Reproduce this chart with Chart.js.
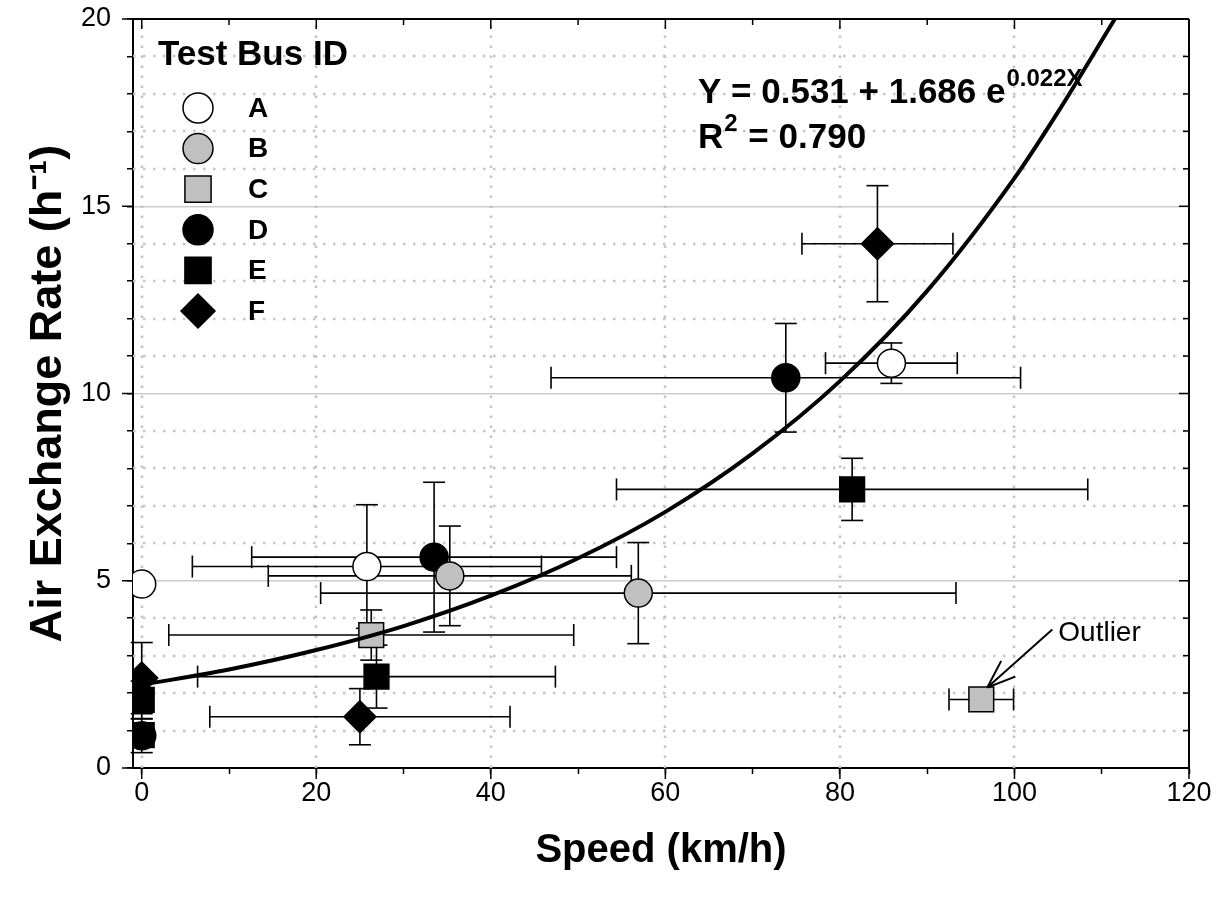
<!DOCTYPE html>
<html><head><meta charset="utf-8">
<script src="https://cdn.jsdelivr.net/npm/chart.js@4.4.1/dist/chart.umd.min.js"></script>
<style>html,body{margin:0;padding:0;background:#fff}canvas{display:block}</style>
</head><body>
<div style="width:1227px;height:904px"><canvas id="c" width="1227" height="904"></canvas></div>
<script>
// ---- data ----
const seriesNames = ['A','B','C','D','E','F'];

const speedA = [0, 25.8, 85.9];        const rateA = [4.91, 5.38, 10.81];
const speedErrA = [0, 20.0, 7.55];     const rateErrA = [0, 1.65, 0.54];

const speedB = [35.3, 56.9];           const rateB = [5.13, 4.67];
const speedErrB = [20.8, 36.4];        const rateErrB = [1.33, 1.35];

const speedC = [26.3, 96.2];           const rateC = [3.55, 1.83];
const speedErrC = [23.2, 3.7];         const rateErrC = [0.67, 0];

const speedD = [0, 33.5, 73.8];        const rateD = [0.86, 5.63, 10.42];
const speedErrD = [0, 20.9, 26.9];     const rateErrD = [0.45, 2.0, 1.45];

const speedE = [0, 0, 26.9, 81.4];     const rateE = [1.82, 0.88, 2.44, 7.44];
const speedErrE = [0, 0, 20.5, 27.0];  const rateErrE = [0.5, 0, 0.84, 0.83];

const speedF = [0, 25.0, 84.3];        const rateF = [2.40, 1.37, 14.0];
const speedErrF = [0, 17.2, 8.65];     const rateErrF = [0.95, 0.75, 1.55];

// fitted curve as drawn (Y = 0.531 + 1.686 e^0.022X)
const fitSpeed = [0, 10, 20, 30, 40, 50, 60, 70, 80, 90, 100, 105, 111.5];
const fitRate  = [2.22, 2.63, 3.15, 3.79, 4.60, 5.60, 6.84, 8.40, 10.33, 12.74, 15.75, 17.52, 20.0];
const fitText = ['0.531', '1.686', '0.022X', '0.790'];
const outlierLabel = 'Outlier';

const xTickValues = [0, 10, 20, 30, 40, 50, 60, 70, 80, 90, 100, 110, 120];
const yTickValues = [0,1,2,3,4,5,6,7,8,9,10,11,12,13,14,15,16,17,18,19,20];

// ---- styling ----
const F = '"Liberation Sans", Arial, Helvetica, sans-serif';
const pts = (xs, ys) => xs.map((x, i) => ({x: x, y: ys[i]}));
function series(name, xs, ys, xe, ye, style, fill, r) {
  return {label: name, type: 'scatter', data: pts(xs, ys), errX: xe, errY: ye,
    pointStyle: style, backgroundColor: fill, borderColor: '#000', borderWidth: 1.5,
    pointRadius: r, pointHoverRadius: r, order: 1};
}
const datasets = [
  series('A', speedA, rateA, speedErrA, rateErrA, 'circle', '#ffffff', 14),
  series('B', speedB, rateB, speedErrB, rateErrB, 'circle', '#c0c0c0', 14),
  series('C', speedC, rateC, speedErrC, rateErrC, 'rect', '#c0c0c0', 17.5),
  series('D', speedD, rateD, speedErrD, rateErrD, 'circle', '#000000', 14),
  series('E', speedE, rateE, speedErrE, rateErrE, 'rect', '#000000', 17.5),
  series('F', speedF, rateF, speedErrF, rateErrF, 'rectRot', '#000000', 16),
  {label: 'fit', type: 'line', data: pts(fitSpeed, fitRate), borderColor: '#000', borderWidth: 4,
   pointRadius: 0, fill: false, cubicInterpolationMode: 'monotone', order: 0}
];

const gridPlugin = {
  id: 'dottedGrid',
  beforeDatasetsDraw(chart) {
    const {ctx, chartArea: a, scales: {x, y}} = chart;
    ctx.save();
    ctx.strokeStyle = '#c4c4c4'; ctx.lineWidth = 2.5; ctx.setLineDash([2.5, 7.5]);
    x.ticks.forEach(t => {
      if (t.value % 20 !== 0 || t.value >= 120) return;
      const px = Math.round(x.getPixelForValue(t.value));
      ctx.beginPath(); ctx.moveTo(px, a.bottom); ctx.lineTo(px, a.top); ctx.stroke();
    });
    y.ticks.forEach(t => {
      if (t.value % 5 === 0) return;
      const py = Math.round(y.getPixelForValue(t.value));
      ctx.beginPath(); ctx.moveTo(a.left, py); ctx.lineTo(a.right, py); ctx.stroke();
    });
    ctx.restore();
  }
};

const errorBarPlugin = {
  id: 'errorBars',
  beforeDatasetsDraw(chart) {
    const {ctx, scales: {x, y}} = chart;
    const cap = 11;
    ctx.save(); ctx.strokeStyle = '#000'; ctx.lineWidth = 1.6;
    const seg = (x1, y1, x2, y2) => { ctx.beginPath(); ctx.moveTo(x1, y1); ctx.lineTo(x2, y2); ctx.stroke(); };
    chart.data.datasets.forEach(ds => {
      if (!ds.errX) return;
      ds.data.forEach((p, i) => {
        const px = x.getPixelForValue(p.x), py = y.getPixelForValue(p.y);
        const ex = ds.errX[i], ey = ds.errY[i];
        if (ex > 0) {
          const l = x.getPixelForValue(p.x - ex), r = x.getPixelForValue(p.x + ex);
          seg(l, py, r, py); seg(l, py - cap, l, py + cap); seg(r, py - cap, r, py + cap);
        }
        if (ey > 0) {
          const t = y.getPixelForValue(p.y + ey), b = y.getPixelForValue(p.y - ey);
          seg(px, t, px, b); seg(px - cap, t, px + cap, t); seg(px - cap, b, px + cap, b);
        }
      });
    });
    ctx.restore();
  }
};

const decorPlugin = {
  id: 'decor',
  afterDatasetsDraw(chart) {
    const {ctx, scales: {x, y}} = chart;
    ctx.save();
    // legend
    ctx.fillStyle = '#000'; ctx.textBaseline = 'alphabetic'; ctx.textAlign = 'left';
    ctx.font = 'bold 35px ' + F;
    ctx.fillText('Test Bus ID', 158, 65);
    ctx.font = 'bold 28px ' + F; ctx.textBaseline = 'middle';
    seriesNames.forEach((n, i) => {
      const ds = chart.data.datasets[i];
      const yy = 108 + i * 40.6;
      ctx.fillStyle = ds.backgroundColor; ctx.strokeStyle = '#000'; ctx.lineWidth = 1.5;
      Chart.helpers.drawPoint(ctx, {pointStyle: ds.pointStyle, radius: ds.pointRadius + 1, borderWidth: 1.5, rotation: 0}, 198, yy);
      ctx.fillStyle = '#000';
      ctx.fillText(n, 248, yy + 1);
    });
    // equation
    ctx.textBaseline = 'alphabetic';
    ctx.font = 'bold 35px ' + F;
    const l1 = 'Y = ' + fitText[0] + ' + ' + fitText[1] + ' e';
    ctx.fillText(l1, 698, 103);
    const w1 = ctx.measureText(l1).width;
    ctx.font = 'bold 24px ' + F;
    ctx.fillText(fitText[2], 698 + w1 + 1, 86);
    ctx.font = 'bold 35px ' + F;
    ctx.fillText('R', 698, 148);
    const wR = ctx.measureText('R').width;
    ctx.font = 'bold 24px ' + F;
    ctx.fillText('2', 698 + wR + 1, 131);
    const w2 = ctx.measureText('2').width;
    ctx.font = 'bold 35px ' + F;
    ctx.fillText(' = ' + fitText[3], 698 + wR + w2 + 2, 148);
    // outlier annotation
    const ox = x.getPixelForValue(speedC[1]), oy = y.getPixelForValue(rateC[1]);
    const tipX = ox + 6, tipY = oy - 12;
    const tailX = ox + 71, tailY = oy - 70;
    ctx.strokeStyle = '#000'; ctx.lineWidth = 2;
    ctx.beginPath(); ctx.moveTo(tailX, tailY); ctx.lineTo(tipX, tipY); ctx.stroke();
    const ang = Math.atan2(tailY - tipY, tailX - tipX);
    [-0.36, 0.36].forEach(d => {
      ctx.beginPath(); ctx.moveTo(tipX, tipY);
      ctx.lineTo(tipX + 30 * Math.cos(ang + d), tipY + 30 * Math.sin(ang + d)); ctx.stroke();
    });
    ctx.font = '28px ' + F; ctx.textBaseline = 'middle';
    ctx.fillText(outlierLabel, tailX + 6, tailY + 4);
    ctx.restore();
  },
  afterDraw(chart) {
    const {ctx, chartArea: a, scales: {x, y}} = chart;
    ctx.save(); ctx.strokeStyle = '#000'; ctx.lineWidth = 2;
    const seg = (x1, y1, x2, y2) => { ctx.beginPath(); ctx.moveTo(x1, y1); ctx.lineTo(x2, y2); ctx.stroke(); };
    seg(a.left, a.top, a.right, a.top);
    seg(a.right, a.top, a.right, a.bottom);
    ctx.lineWidth = 1.5;
    x.ticks.forEach(t => {
      const px = x.getPixelForValue(t.value);
      const major = t.value % 20 === 0;
      seg(px, a.top, px, a.top + (major ? 10 : 6));
      if (major) seg(px, a.bottom, px, a.bottom + 11);
    });
    y.ticks.forEach(t => {
      const py = y.getPixelForValue(t.value);
      const major = t.value % 5 === 0;
      seg(a.right, py, a.right - (major ? 10 : 6), py);
      if (major) seg(a.left, py, a.left - 11, py);
    });
    ctx.restore();
  }
};

new Chart(document.getElementById('c'), {
  type: 'scatter',
  data: {datasets: datasets},
  options: {
    responsive: false, animation: false, events: [],
    layout: {padding: {top: 19, right: 38, left: 0, bottom: 0}},
    plugins: {legend: {display: false}, tooltip: {enabled: false}},
    scales: {
      x: {
        type: 'linear', position: 'bottom', min: -1, max: 120,
        afterBuildTicks: s => { s.ticks = xTickValues.map(v => ({value: v})); },
        afterFit: s => { s.height = 136; s.paddingLeft = 0; s.paddingRight = 0; },
        ticks: {autoSkip: false, maxRotation: 0, padding: 3, color: '#000',
          font: {family: F, size: 27},
          callback: v => (v % 20 === 0 ? String(v) : '')},
        grid: {drawOnChartArea: false, drawTicks: true, tickLength: 6, tickColor: '#000', tickWidth: 1.5},
        border: {display: true, color: '#000', width: 2},
        title: {display: true, text: 'Speed (km/h)', color: '#000',
          font: {family: F, size: 40, weight: 'bold'}, padding: {top: 0, bottom: 29}}
      },
      y: {
        type: 'linear', position: 'left', min: 0, max: 20,
        afterBuildTicks: s => { s.ticks = yTickValues.map(v => ({value: v})); },
        afterFit: s => { s.width = 133; s.paddingTop = 0; s.paddingBottom = 0; },
        ticks: {autoSkip: false, padding: 16, color: '#000',
          font: {family: F, size: 27},
          callback: v => (v % 5 === 0 ? String(v) : '')},
        grid: {drawOnChartArea: true, drawTicks: true, tickLength: 6, tickColor: '#000', tickWidth: 1.5,
          lineWidth: 1.5,
          color: c => (c.tick && c.tick.value % 5 === 0 && c.tick.value > 0 && c.tick.value < 20) ? '#cccccc' : 'rgba(0,0,0,0)'},
        border: {display: true, color: '#000', width: 2},
        title: {display: true, text: 'Air Exchange Rate (h\u207B\u00B9)', color: '#000',
          font: {family: F, size: 45, weight: 'bold'}, padding: {top: 22, bottom: 0}}
      }
    }
  },
  plugins: [gridPlugin, errorBarPlugin, decorPlugin]
});
</script>
</body></html>
